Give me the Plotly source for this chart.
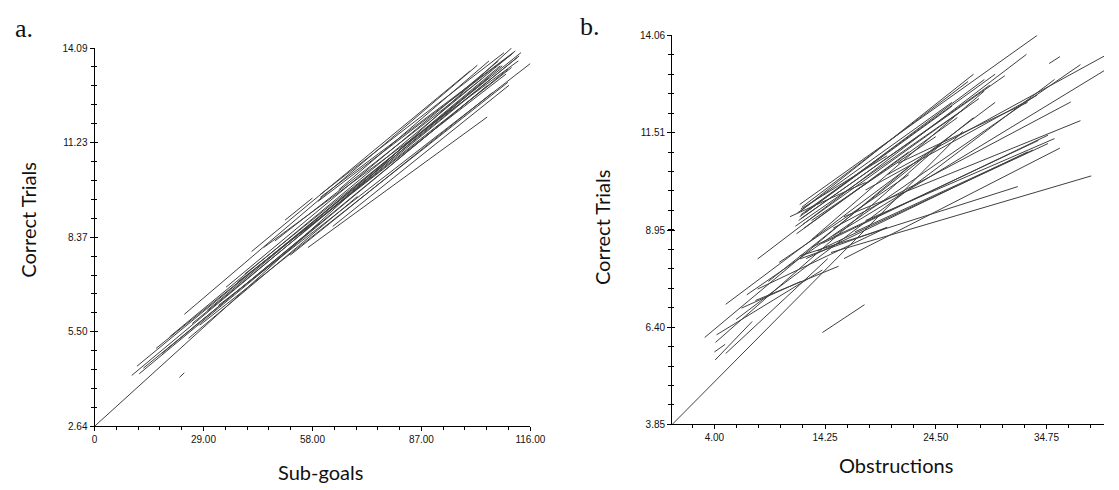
import numpy as np
import plotly.graph_objects as go

# ---------------- Panel a: Sub-goals vs Correct Trials ----------------
a_x_start = [0.0, 9.9, 11.3, 11.9, 13.0, 16.4, 23.9, 22.6, 20.0, 26.0, 28.0, 30.0, 33.0, 41.8, 50.7,
             52.1, 56.8, 63.4, 60.1, 59.5, 60.0, 45.0, 38.0, 35.0, 48.0, 55.0, 40.0, 18.0, 25.0, 65.0]
a_y_start = [2.64, 4.18, 4.46, 4.23, 4.40, 5.00, 6.03, 4.12, 5.35, 5.75, 5.70, 6.15, 6.30, 7.93, 8.88,
             7.82, 8.05, 8.69, 9.57, 9.45, 9.65, 8.05, 7.00, 6.85, 8.25, 8.50, 7.25, 4.85, 5.30, 9.80]
a_x_end = [111.0, 105.0, 108.5, 104.5, 110.0, 112.5, 101.9, 23.9, 111.5, 113.0, 110.0, 108.0, 116.0, 100.0, 58.0,
           106.0, 104.5, 110.3, 112.0, 111.0, 109.0, 112.8, 109.5, 107.5, 103.0, 111.0, 113.5, 60.0, 70.0, 105.0]
a_y_end = [14.09, 13.20, 13.55, 12.95, 13.45, 13.80, 13.57, 4.26, 13.95, 13.85, 13.05, 13.55, 13.62, 13.40, 9.55,
           12.75, 12.00, 12.96, 14.00, 13.90, 13.95, 13.70, 13.30, 13.70, 13.15, 13.50, 13.95, 8.80, 9.60, 13.70]

a_xticks = [0, 29, 58, 87, 116]
a_xticklabels = ["0", "29.00", "58.00", "87.00", "116.00"]
a_yticks = [2.64, 5.50, 8.37, 11.23, 14.09]
a_yticklabels = ["2.64", "5.50", "8.37", "11.23", "14.09"]

# ---------------- Panel b: Obstructions vs Correct Trials ----------------
b_x_start = [11.9, 12.0, 12.0, 12.0, 11.8, 12.2, 11.5, 8.0, 11.6, 11.0,
             3.1, 4.1, 4.07, 4.0, 5.05, 5.05, 6.0, 7.0, 4.2, 6.5,
             0.1, 14.8, 11.9, 11.9, 14.0, 13.5, 12.5, 15.0, 16.0, 18.0,
             20.0, 15.0, 21.0, 35.0, 14.0, 12.0, 13.0, 10.0, 9.0, 8.0,
             11.7, 12.3, 13.0, 16.0, 18.0, 7.8, 12.1, 11.9, 12.4, 13.0, 17.0]
b_y_start = [9.62, 9.45, 9.35, 9.25, 9.20, 9.10, 9.05, 8.19, 8.85, 9.30,
             6.13, 6.00, 5.54, 5.75, 5.71, 7.00, 6.60, 7.25, 6.20, 6.90,
             3.85, 8.36, 8.27, 8.19, 8.60, 8.40, 8.20, 9.00, 9.30, 10.00,
             10.40, 8.80, 10.70, 13.32, 6.26, 9.50, 9.20, 8.10, 7.60, 7.40,
             9.40, 9.00, 8.70, 8.20, 9.20, 7.10, 9.55, 9.30, 9.40, 8.50, 8.90]
b_x_end = [33.9, 28.0, 30.0, 30.9, 29.5, 28.5, 27.0, 32.9, 26.5, 18.0,
           22.0, 25.0, 7.5, 5.0, 14.5, 30.0, 35.5, 37.9, 14.0, 12.0,
           27.0, 38.9, 32.1, 20.0, 34.9, 34.9, 33.0, 37.0, 37.9, 33.9,
           40.2, 40.2, 33.0, 36.0, 17.9, 20.0, 24.5, 22.0, 28.0, 20.0,
           26.0, 22.0, 29.0, 36.0, 35.5, 15.5, 27.5, 26.0, 29.0, 34.0, 33.5]
b_y_end = [14.06, 13.04, 13.04, 13.00, 12.75, 12.40, 12.10, 13.56, 11.90, 10.20,
           10.60, 11.20, 6.55, 5.95, 8.20, 12.30, 12.90, 13.29, 7.90, 7.60,
           11.54, 10.37, 10.09, 9.02, 11.44, 11.22, 11.00, 12.31, 11.82, 12.49,
           13.53, 13.15, 12.30, 13.50, 6.99, 10.90, 11.40, 10.40, 11.90, 9.02,
           12.30, 11.00, 12.60, 11.10, 11.35, 8.00, 12.85, 12.20, 12.90, 11.30, 11.05]

b_xticks = [4.00, 14.25, 24.50, 34.75]
b_xticklabels = ["4.00", "14.25", "24.50", "34.75"]
b_yticks = [3.85, 6.40, 8.95, 11.51, 14.06]
b_yticklabels = ["3.85", "6.40", "8.95", "11.51", "14.06"]


def segs(x0, y0, x1, y1):
    xs, ys = [], []
    for a, b, c, d in zip(x0, y0, x1, y1):
        xs += [a, c, None]
        ys += [b, d, None]
    return xs, ys


LINE_COLOR = "#404040"
fig = go.Figure()
xa, ya = segs(a_x_start, a_y_start, a_x_end, a_y_end)
fig.add_trace(go.Scatter(x=xa, y=ya, mode="lines", line=dict(color=LINE_COLOR, width=1),
                         xaxis="x", yaxis="y", showlegend=False, hoverinfo="skip"))
xb, yb = segs(b_x_start, b_y_start, b_x_end, b_y_end)
fig.add_trace(go.Scatter(x=xb, y=yb, mode="lines", line=dict(color=LINE_COLOR, width=1),
                         xaxis="x2", yaxis="y2", showlegend=False, hoverinfo="skip"))
# empty traces so the overlay tick axes get drawn
fig.add_trace(go.Scatter(x=[None], y=[None], xaxis="x", yaxis="y3", showlegend=False, hoverinfo="skip"))
fig.add_trace(go.Scatter(x=[None], y=[None], xaxis="x2", yaxis="y4", showlegend=False, hoverinfo="skip"))

W, H = 1119, 490
tickfont = dict(family="Liberation Sans, Arial, sans-serif", size=10, color="#111")


def ax_common():
    return dict(showline=True, linecolor="black", linewidth=1, showgrid=False, zeroline=False,
                ticks="outside", ticklen=4, tickcolor="black", tickwidth=1, tickfont=tickfont,
                tickmode="array", fixedrange=True)


def ax_inner(base, rng, tv, mv, anchor):
    # overlay axis that draws the inner half of the crossing ticks
    return dict(overlaying=base, anchor=anchor, range=rng, showline=False, showgrid=False,
                zeroline=False, showticklabels=False, ticks="inside", ticklen=3, tickcolor="black",
                tickwidth=1, tickmode="array", tickvals=tv, fixedrange=True,
                minor=dict(tickvals=mv, ticks="inside", ticklen=2, tickcolor="black"))


a_yrange = [a_yticks[0], a_yticks[-1]]
a_xrange = [a_xticks[0], a_xticks[-1]]
b_yrange = [b_yticks[0], b_yticks[-1]]
b_xstep = (b_xticks[1] - b_xticks[0])
b_xrange = [b_xticks[0] - 0.4 * b_xstep + 0.18, b_xticks[0] + 3.52 * b_xstep]

a_xminor = list(np.linspace(a_xrange[0], a_xrange[1], 21))
a_yminor = list(np.linspace(a_yrange[0], a_yrange[1], 21))
b_xminor = list(np.arange(b_xticks[0] - 2 * b_xstep / 5, b_xrange[1], b_xstep / 5))
b_yminor = list(np.linspace(b_yrange[0], b_yrange[1], 21))

fig.update_layout(
    width=W, height=H, margin=dict(l=0, r=0, t=0, b=0),
    paper_bgcolor="white", plot_bgcolor="white",
    xaxis=dict(**ax_common(), domain=[93 / W, 536 / W], range=a_xrange, anchor="y",
               tickvals=a_xticks, ticktext=a_xticklabels,
               minor=dict(tickvals=a_xminor, ticks="outside", ticklen=3, tickcolor="black")),
    yaxis=dict(**ax_common(), domain=[(H - 431) / H, (H - 44) / H], range=a_yrange, anchor="x",
               tickvals=a_yticks, ticktext=a_yticklabels,
               minor=dict(tickvals=a_yminor, ticks="outside", ticklen=3, tickcolor="black")),
    xaxis2=dict(**ax_common(), domain=[680 / W, 1.0], range=b_xrange, anchor="y2",
                tickvals=b_xticks, ticktext=b_xticklabels,
                minor=dict(tickvals=b_xminor, ticks="outside", ticklen=3, tickcolor="black")),
    yaxis2=dict(**ax_common(), domain=[(H - 429) / H, (H - 31) / H], range=b_yrange, anchor="x2",
                tickvals=b_yticks, ticktext=b_yticklabels,
                minor=dict(tickvals=b_yminor, ticks="outside", ticklen=3, tickcolor="black")),
    yaxis3=ax_inner("y", a_yrange, a_yticks, a_yminor, "x"),
    yaxis4=ax_inner("y2", b_yrange, b_yticks, b_yminor, "x2"),
)

title_font = dict(family="Lato, Carlito, sans-serif", size=20, color="#111")
panel_font = dict(family="Liberation Serif, Times New Roman, serif", size=26, color="#111")
ann = [
    dict(text="a.", x=21 / W, y=1 - 24 / H, font=panel_font),
    dict(text="b.", x=597 / W, y=1 - 22 / H, font=panel_font),
    dict(text="Correct Trials", x=25 / W, y=1 - 220 / H, font=title_font, textangle=-90),
    dict(text="Correct Trials", x=609 / W, y=1 - 228 / H, font=title_font, textangle=-90),
    dict(text="Sub-goals", x=323 / W, y=1 - 478 / H, font=title_font),
    dict(text="Obstructions", x=908 / W, y=1 - 471 / H, font=title_font),
]
for a in ann:
    fig.add_annotation(xref="paper", yref="paper", xanchor="center", yanchor="middle",
                       showarrow=False, **a)

fig.write_html("out.html", config={"displayModeBar": False},
               post_script="document.body.style.margin='0px';document.body.style.overflow='hidden';")
